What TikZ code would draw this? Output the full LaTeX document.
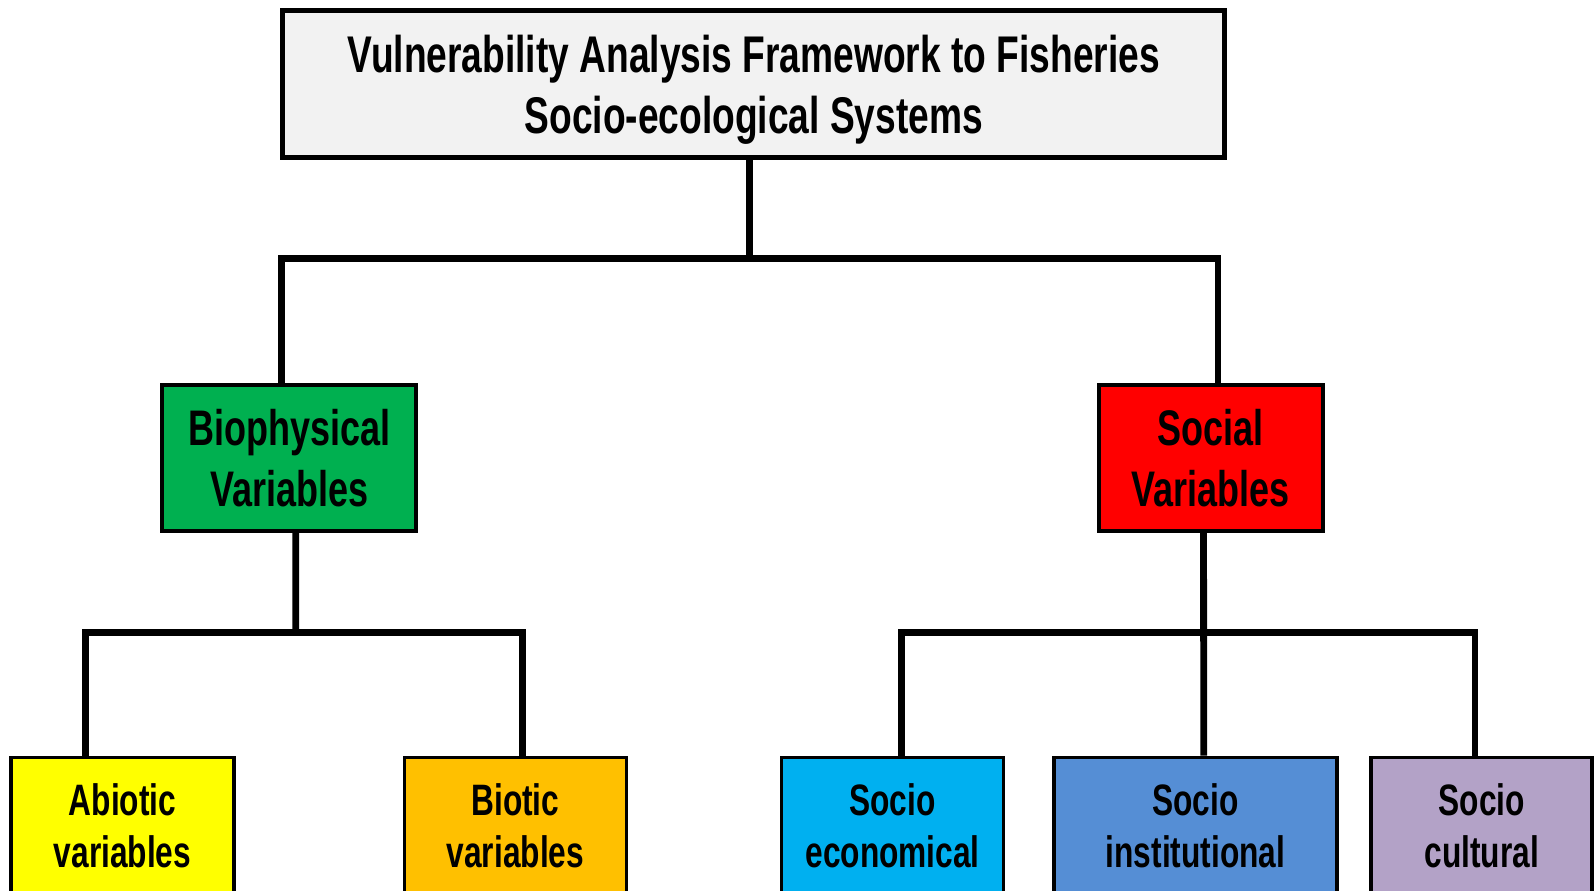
\documentclass[tikz,border=0pt]{standalone}
\usepackage{fontspec}
\setmainfont{Liberation Sans}[FakeStretch=0.72]
\usepackage{tikz}
\usetikzlibrary{positioning,calc}

\definecolor{headgray}{HTML}{F2F2F2}
\definecolor{biogreen}{HTML}{00B050}
\definecolor{socred}{HTML}{FF0000}
\definecolor{abioyellow}{HTML}{FFFF00}
\definecolor{bioorange}{HTML}{FFC000}
\definecolor{econcyan}{HTML}{00B0F0}
\definecolor{instblue}{HTML}{558ED5}
\definecolor{cultpurple}{HTML}{B3A2C7}

\begin{document}
\begin{tikzpicture}[x=0.5083pt, y=-0.5083pt,
    head/.style={rectangle, draw, line width=2.5pt, fill=headgray, align=center,
        minimum width=471pt, minimum height=73.5pt, text depth=0pt,
        font=\bfseries\fontsize{25.8}{30.5}\selectfont},
    group/.style={rectangle, draw, line width=1.8pt, align=center,
        minimum height=73pt, font=\bfseries\fontsize{25}{30.5}\selectfont},
    leaf/.style={rectangle, draw, line width=1.8pt, align=center,
        minimum width=111pt, minimum height=68pt,
        font=\bfseries\fontsize{22}{26}\selectfont},
    link/.style={line width=3.4pt}]
    \useasboundingbox (0,0) rectangle (1568,876);

    % framework title
    \node[head] (top) at (741.5,82.5) {Vulnerability Analysis Framework to Fisheries\\Socio-ecological Systems};

    % the two branches
    \node[group, fill=biogreen, minimum width=127pt] (bio) at (284.5,450.5) {Biophysical\\Variables};
    \node[group, fill=socred, minimum width=112pt] (soc) at (1191,450.5) {Social\\Variables};

    % leaves
    \node[leaf, fill=abioyellow, minimum width=111.5pt] (abio) at (120.5,812) {Abiotic\\variables};
    \node[leaf, fill=bioorange] (biot) at (507,812) {Biotic\\variables};
    \node[leaf, fill=econcyan] (econ) at (878,812) {Socio\\economical};
    \node[leaf, fill=instblue, minimum width=141.5pt] (inst) at (1176,812) {Socio\\institutional};
    \node[leaf, fill=cultpurple, minimum width=110.5pt] (cult) at (1457.5,812) {Socio\\cultural};

    % bus junctions
    \coordinate (busA) at (737,254);
    \coordinate (busB) at (291,622);
    \coordinate (busC) at (1184,622);

    \draw[link] (top.south -| busA) -- (busA);
    \draw[link] ([xshift=-3.8pt]bio.north) |- (busA) -| ([xshift=3.6pt]soc.north);

    \draw[link] ([xshift=3.3pt]bio.south) -- (busB);
    \draw[link] ([xshift=-18.6pt]abio.north) |- (busB) -| ([xshift=3.6pt]biot.north);

    \draw[link] ([xshift=-3.6pt]soc.south) -- (busC) -- ([xshift=4.1pt]inst.north);
    \draw[link] ([xshift=4.6pt]econ.north) |- (busC) -| ([xshift=-3.3pt]cult.north);
\end{tikzpicture}
\end{document}
